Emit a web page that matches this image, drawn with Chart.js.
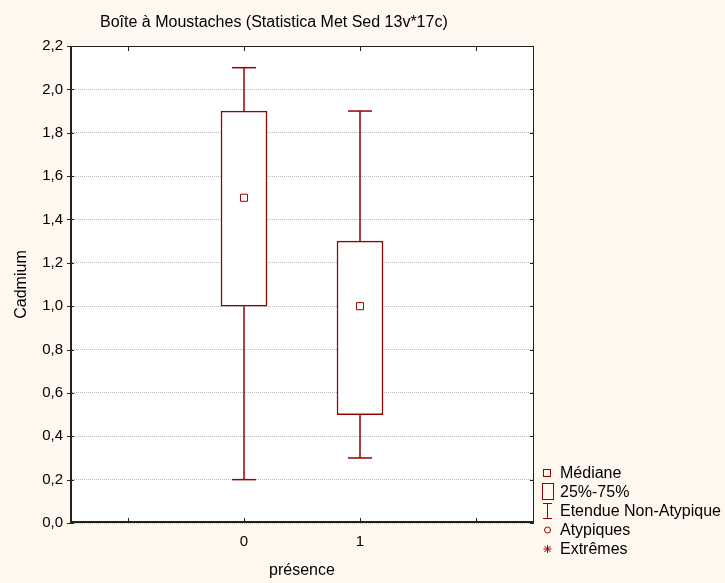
<!DOCTYPE html>
<html>
<head>
<meta charset="utf-8">
<script src="https://cdn.jsdelivr.net/npm/chart.js@4.4.1/dist/chart.umd.min.js"></script>
<style>
    html, body { margin: 0; padding: 0; background: #fef8ee; }
    #wrap { width: 725px; height: 583px; }
</style>
</head>
<body>
<div id="wrap"><canvas id="boxChart" width="725" height="583"></canvas></div>
<script>
const categories = [0, 1];
const whiskerLow = [0.2, 0.3];
const q1 = [1.0, 0.5];
const median = [1.5, 1.0];
const q3 = [1.9, 1.3];
const whiskerHigh = [2.1, 1.9];
const xTickValues = [-1, 0, 1, 2];
const xTickLabels = { '0': '0', '1': '1' };
const legendLabels = ['Médiane', '25%-75%', 'Etendue Non-Atypique', 'Atypiques', 'Extrêmes'];

const red = '#990000';
const font = '"Liberation Sans", Arial, sans-serif';

let whiskerPoints = [];
let capPoints = [];
categories.forEach(function(c, i) {
    whiskerPoints.push({x: c, y: q3[i]}, {x: c, y: whiskerHigh[i]}, {x: c, y: null});
    whiskerPoints.push({x: c, y: q1[i]}, {x: c, y: whiskerLow[i]}, {x: c, y: null});
    capPoints.push({x: c, y: whiskerHigh[i]}, {x: c, y: whiskerLow[i]});
});

const decor = {
    id: 'decor',
    beforeDraw(chart) {
        const ctx = chart.ctx;
        const a = chart.chartArea;
        ctx.save();
        ctx.fillStyle = '#fef8ee';
        ctx.fillRect(0, 0, chart.width, chart.height);
        ctx.fillStyle = '#ffffff';
        ctx.fillRect(a.left, a.top, a.right - a.left, a.bottom - a.top);
        ctx.restore();
    },
    afterDraw(chart) {
        const ctx = chart.ctx;
        const a = chart.chartArea;
        const xs = chart.scales.x;
        const ys = chart.scales.y;
        ctx.save();
        // frame
        ctx.strokeStyle = '#222';
        ctx.lineWidth = 1;
        ctx.strokeRect(a.left + 0.5, a.top + 0.5, a.right - a.left - 1, a.bottom - a.top - 1);
        ctx.lineWidth = 2;
        ctx.beginPath();
        ctx.moveTo(a.left + 1, a.top);
        ctx.lineTo(a.left + 1, a.bottom - 1);
        ctx.lineTo(a.right, a.bottom - 1);
        ctx.stroke();
        // inward ticks
        ctx.lineWidth = 1;
        ctx.beginPath();
        xs.ticks.forEach(function(t) {
            const px = Math.round(xs.getPixelForValue(t.value)) + 0.5;
            ctx.moveTo(px, a.top); ctx.lineTo(px, a.top + 5);
            ctx.moveTo(px, a.bottom); ctx.lineTo(px, a.bottom - 5);
        });
        ys.ticks.forEach(function(t) {
            const py = Math.round(ys.getPixelForValue(t.value)) + 0.5;
            ctx.moveTo(a.left - 3, py); ctx.lineTo(a.left + 4, py);
            ctx.moveTo(a.right, py); ctx.lineTo(a.right - 4, py);
        });
        ctx.stroke();

        // title
        ctx.fillStyle = '#000';
        ctx.font = '16px ' + font;
        ctx.textBaseline = 'middle';
        ctx.textAlign = 'left';
        ctx.fillText('Boîte à Moustaches (Statistica Met Sed 13v*17c)', 100, 23);

        // legend
        const lx = 547;
        const rows = [473, 492, 511, 530, 549];
        ctx.strokeStyle = red;
        ctx.lineWidth = 1;
        ctx.strokeRect(lx - 3.5, rows[0] - 3.5, 7, 7);
        ctx.strokeRect(542.5, rows[1] - 8.5, 11, 16);
        ctx.beginPath();
        ctx.moveTo(lx + 0.5, rows[2] - 8); ctx.lineTo(lx + 0.5, rows[2] + 8);
        ctx.moveTo(lx - 4, rows[2] - 7.5); ctx.lineTo(lx + 5, rows[2] - 7.5);
        ctx.moveTo(lx - 4, rows[2] + 7.5); ctx.lineTo(lx + 5, rows[2] + 7.5);
        ctx.stroke();
        ctx.beginPath();
        ctx.arc(lx + 0.5, rows[3], 3, 0, Math.PI * 2);
        ctx.stroke();
        ctx.beginPath();
        const s = 4;
        ctx.moveTo(lx + 0.5, rows[4] - s); ctx.lineTo(lx + 0.5, rows[4] + s);
        ctx.moveTo(lx - s + 0.5, rows[4]); ctx.lineTo(lx + s + 0.5, rows[4]);
        ctx.moveTo(lx - 3 + 0.5, rows[4] - 3); ctx.lineTo(lx + 3 + 0.5, rows[4] + 3);
        ctx.moveTo(lx + 3 + 0.5, rows[4] - 3); ctx.lineTo(lx - 3 + 0.5, rows[4] + 3);
        ctx.stroke();
        ctx.fillStyle = '#000';
        legendLabels.forEach(function(label, i) {
            ctx.fillText(label, 560, rows[i] + 1);
        });
        ctx.restore();
    }
};

const ctx = document.getElementById('boxChart');
new Chart(ctx, {
    type: 'bar',
    data: {
        datasets: [{
            type: 'scatter',
            data: categories.map((c, i) => ({x: c, y: median[i]})),
            pointStyle: 'rect',
            pointRadius: 5,
            pointBackgroundColor: '#ffffff',
            pointBorderColor: red,
            pointBorderWidth: 1,
            order: 0
        }, {
            type: 'scatter',
            data: capPoints,
            pointStyle: 'line',
            pointRadius: 12,
            pointBorderColor: red,
            pointBorderWidth: 1.5,
            order: 1
        }, {
            type: 'line',
            data: whiskerPoints,
            borderColor: red,
            borderWidth: 1.5,
            pointRadius: 0,
            spanGaps: false,
            order: 2
        }, {
            type: 'bar',
            data: categories.map((c, i) => ({x: c, y: [q1[i], q3[i]]})),
            backgroundColor: '#ffffff',
            borderColor: red,
            borderWidth: 1.5,
            borderSkipped: false,
            barThickness: 46,
            order: 3
        }]
    },
    options: {
        responsive: false,
        animation: false,
        layout: {
            padding: { left: 0, top: 46, right: 191, bottom: 0 }
        },
        scales: {
            x: {
                type: 'linear',
                min: -1.5,
                max: 2.5,
                offset: false,
                grid: { display: false },
                border: { display: false },
                afterBuildTicks: function(scale) {
                    scale.ticks = xTickValues.map(v => ({ value: v }));
                },
                ticks: {
                    padding: 2,
                    color: '#000',
                    font: { family: font, size: 15 },
                    maxRotation: 0,
                    autoSkip: false,
                    callback: function(val) {
                        return xTickLabels[String(val)] || '';
                    }
                },
                title: {
                    display: true,
                    text: 'présence',
                    color: '#000',
                    font: { family: font, size: 16 },
                    padding: { top: 0, bottom: 3 }
                },
                afterFit: function(scale) { scale.height = 60; }
            },
            y: {
                min: 0,
                max: 2.2,
                grid: {
                    color: '#bcbcbc',
                    lineWidth: 1,
                    drawTicks: false
                },
                border: { display: false, dash: [1, 1] },
                ticks: {
                    stepSize: 0.2,
                    padding: 7,
                    color: '#000',
                    font: { family: font, size: 15 },
                    callback: function(val) {
                        return val.toFixed(1).replace('.', ',');
                    }
                },
                title: {
                    display: true,
                    text: 'Cadmium',
                    color: '#000',
                    font: { family: font, size: 16 },
                    padding: { top: 12, bottom: 0 }
                },
                afterFit: function(scale) { scale.width = 70; }
            }
        },
        plugins: {
            legend: { display: false },
            tooltip: { enabled: false }
        }
    },
    plugins: [decor]
});
</script>
</body>
</html>
